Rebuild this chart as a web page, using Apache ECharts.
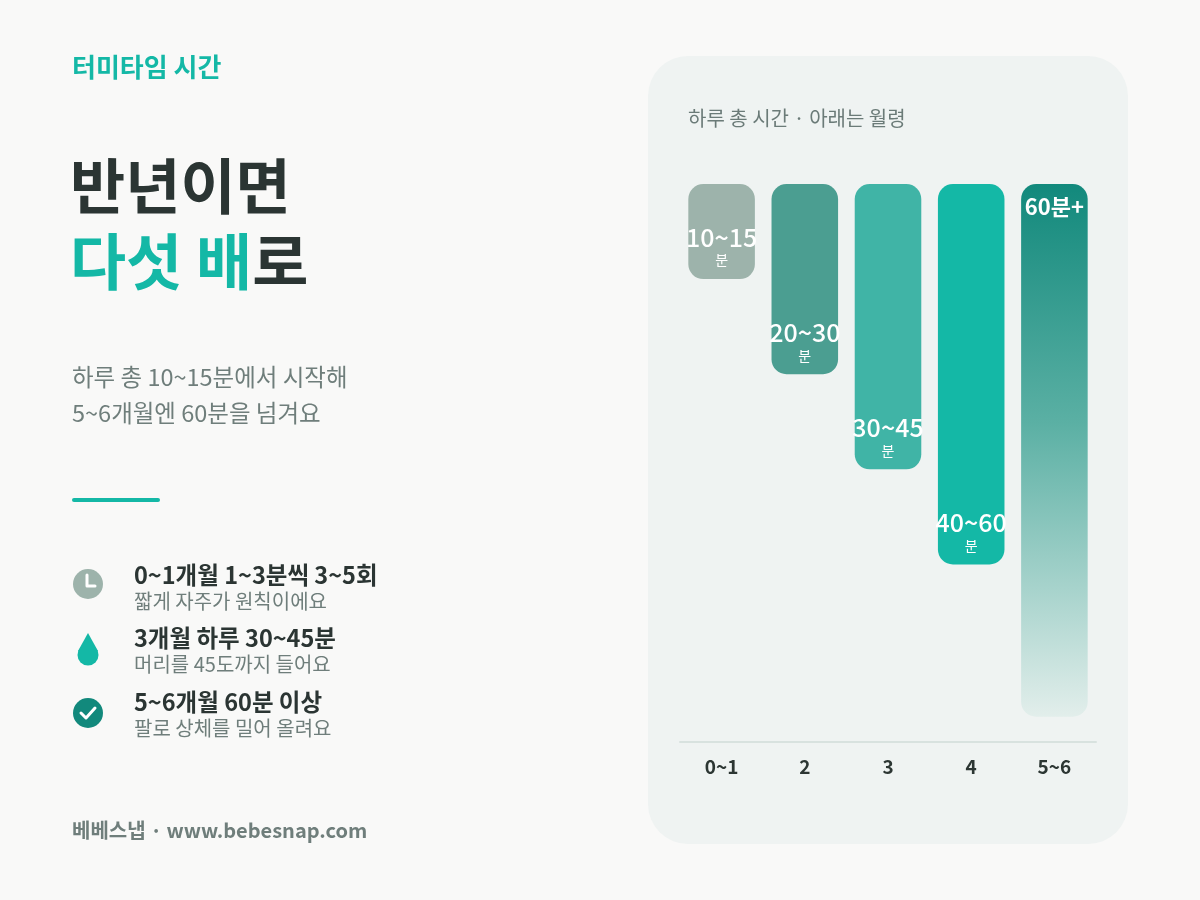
<!DOCTYPE html>
<html>
<head>
<meta charset="utf-8">
<script src="https://cdn.jsdelivr.net/npm/echarts@6/dist/echarts.min.js"></script>
<style>
  html, body { margin: 0; padding: 0; background: #f9f9f8; }
  #main { width: 1200px; height: 900px; }
</style>
</head>
<body>
<div id="main"></div>
<script>
// 월령 (x축)
var months = ['0~1', '2', '3', '4', '5~6'];
// 하루 총 시간 상한값 (분)
var minutes = [15, 30, 45, 60, 84];
// 막대 라벨
var rangeLabels = ['10~15', '20~30', '30~45', '40~60', '60분+'];
var unitLabels = ['분', '분', '분', '분', ''];

var FONT = '"Noto Sans CJK KR", "Noto Sans", sans-serif';
var TEAL = '#14b8a6';
var DARK = '#2b3533';
var GRAY = '#6f7e7b';

var barColors = [
  '#9db3ab',
  '#4b9e91',
  '#40b4a6',
  '#14b8a6',
  new echarts.graphic.LinearGradient(0, 0, 0, 1, [
    { offset: 0, color: '#12897c' },
    { offset: 0.45, color: '#5bb0a4' },
    { offset: 1, color: '#e2eeeb' }
  ])
];

var barData = minutes.map(function (v, i) {
  var last = i === minutes.length - 1;
  return {
    value: v,
    itemStyle: { color: barColors[i] },
    label: last ? {
      position: 'insideTop',
      distance: 12,
      formatter: rangeLabels[i],
      color: '#fff',
      fontSize: 22,
      fontWeight: 'bold',
      fontFamily: FONT
    } : {
      position: 'insideBottom',
      distance: 10,
      formatter: '{v|' + rangeLabels[i] + '}\n{u|' + unitLabels[i] + '}'
    }
  };
});

// 왼쪽 목록
var items = [
  { title: '0~1개월 1~3분씩 3~5회', sub: '짧게 자주가 원칙이에요' },
  { title: '3개월 하루 30~45분', sub: '머리를 45도까지 들어요' },
  { title: '5~6개월 60분 이상', sub: '팔로 상체를 밀어 올려요' }
];

function txt(x, y, text, font, fill) {
  return { type: 'text', x: x, y: y, style: { text: text, font: font, fill: fill, verticalAlign: 'middle' } };
}

var graphics = [
  // 오른쪽 카드
  { type: 'rect', z: -10, shape: { x: 648, y: 56, width: 480, height: 788, r: 40 }, style: { fill: '#eff3f2' } },
  txt(688, 118, '하루 총 시간 · 아래는 월령', '20px ' + FONT, '#6b7b78'),

  txt(72, 67, '터미타임 시간', 'bold 26px ' + FONT, TEAL),
  txt(70, 186, '반년이면', 'bold 60px ' + FONT, DARK),
  { type: 'text', x: 70, y: 262, style: {
      text: '{t|다섯 배}{d|로}',
      verticalAlign: 'middle',
      rich: {
        t: { font: 'bold 61px ' + FONT, fill: TEAL },
        d: { font: 'bold 61px ' + FONT, fill: DARK }
      }
  } },
  txt(72, 377, '하루 총 10~15분에서 시작해', '23.5px ' + FONT, GRAY),
  txt(72, 413, '5~6개월엔 60분을 넘겨요', '23.5px ' + FONT, GRAY),
  { type: 'line', shape: { x1: 74, y1: 500, x2: 158, y2: 500 }, style: { stroke: TEAL, lineWidth: 4, lineCap: 'round' } },

  // 아이콘: 시계
  { type: 'circle', shape: { cx: 88, cy: 584, r: 15 }, style: { fill: '#9db3ab' } },
  { type: 'polyline', shape: { points: [[87, 575], [87, 586], [95, 586]] }, style: { stroke: '#fff', lineWidth: 3, fill: null, lineCap: 'round', lineJoin: 'round' } },
  // 아이콘: 물방울
  { type: 'circle', shape: { cx: 88, cy: 655, r: 10.5 }, style: { fill: TEAL } },
  { type: 'polygon', shape: { points: [[88, 633], [78, 651], [98, 651]] }, style: { fill: TEAL } },
  // 아이콘: 체크
  { type: 'circle', shape: { cx: 88, cy: 713, r: 15 }, style: { fill: '#12897c' } },
  { type: 'polyline', shape: { points: [[81, 713], [86, 718], [95, 708]] }, style: { stroke: '#fff', lineWidth: 3, fill: null, lineCap: 'round', lineJoin: 'round' } },

  txt(72, 830, '베베스냅 · www.bebesnap.com', 'bold 20px ' + FONT, GRAY)
];

var itemTops = [575, 638, 702];
items.forEach(function (it, i) {
  graphics.push(txt(134, itemTops[i], it.title, 'bold 23.5px ' + FONT, DARK));
  graphics.push(txt(134, itemTops[i] + 26, it.sub, '20px ' + FONT, GRAY));
});

var chart = echarts.init(document.getElementById('main'));
chart.setOption({
  backgroundColor: '#f9f9f8',
  animation: false,
  textStyle: { fontFamily: FONT },
  graphic: graphics,
  grid: { left: 680, right: 104, top: 184, bottom: 158, containLabel: false },
  xAxis: {
    type: 'category',
    data: months,
    position: 'bottom',
    axisLine: { show: true, onZero: false, lineStyle: { color: '#d8e2df', width: 2 } },
    axisTick: { show: false },
    axisLabel: { color: '#2c3633', fontSize: 19, fontWeight: 600, margin: 15, fontFamily: FONT }
  },
  yAxis: {
    type: 'value',
    inverse: true,
    min: 0,
    max: 88,
    show: false,
    splitLine: { show: false }
  },
  series: [{
    type: 'bar',
    data: barData,
    barCategoryGap: '20%',
    itemStyle: { borderRadius: 15 },
    label: {
      show: true,
      color: '#fff',
      fontFamily: FONT,
      rich: {
        v: { fontSize: 25, fontWeight: 500, color: '#fff', lineHeight: 28, fontFamily: FONT },
        u: { fontSize: 14, color: '#fff', lineHeight: 18, fontFamily: FONT }
      }
    }
  }]
});
</script>
</body>
</html>
